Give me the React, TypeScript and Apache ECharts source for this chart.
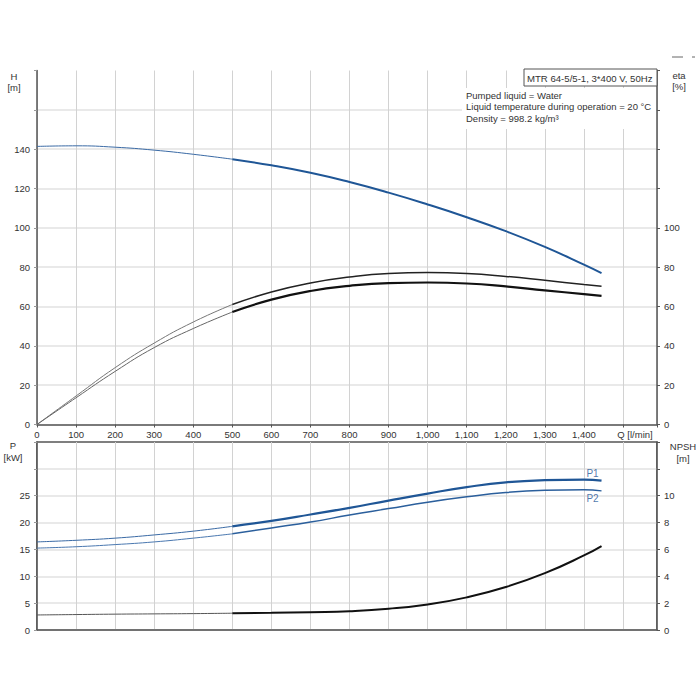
import React, { useEffect, useRef } from "react";
import * as echarts from "echarts";

// Flow rate Q [l/min]
const flowQ = [0, 100, 200, 300, 400, 500, 600, 700, 800, 900, 1000, 1100, 1200, 1300, 1400, 1445];
// Head H [m]
const headH = [141.4, 141.7, 141.0, 139.5, 137.4, 134.9, 131.8, 128.0, 123.3, 117.9, 111.9, 105.4, 98.3, 90.3, 81.3, 77.0];
// Efficiencies [%]
const etaUpper = [0, 14.5, 28.9, 41.4, 52.1, 61.0, 67.4, 72.0, 75.0, 76.8, 77.3, 76.8, 75.3, 73.3, 71.2, 70.3];
const etaLower = [0, 13.6, 27.0, 39.1, 48.8, 57.2, 63.5, 67.9, 70.5, 71.9, 72.2, 71.7, 70.2, 68.2, 66.3, 65.4];
// Power [kW]
const powerP1 = [16.4, 16.7, 17.1, 17.7, 18.4, 19.3, 20.3, 21.5, 22.75, 24.1, 25.4, 26.6, 27.5, 27.9, 28.0, 27.8];
const powerP2 = [15.25, 15.5, 15.9, 16.4, 17.1, 17.9, 19.0, 20.1, 21.4, 22.6, 23.8, 24.8, 25.6, 26.0, 26.1, 25.9];
// NPSH [m]
const npsh = [1.12, 1.15, 1.18, 1.2, 1.22, 1.25, 1.28, 1.33, 1.4, 1.58, 1.9, 2.43, 3.2, 4.23, 5.55, 6.25];

const opStart = 5; // index where operating range (thick curve) begins
const qMax = 1587;

const infoTitle = "MTR 64-5/5-1, 3*400 V, 50Hz";
const infoLines = [
  "Pumped liquid = Water",
  "Liquid temperature during operation = 20 °C",
  "Density = 998.2 kg/m³",
];

const FONT = 'Arial, "Liberation Sans", sans-serif';
const TXT = "#333";

function pts(ys: number[], from: number, to?: number) {
  const end = to === undefined ? flowQ.length : to;
  const out: number[][] = [];
  for (let i = from; i < end; i++) out.push([flowQ[i], ys[i]]);
  return out;
}

function lineSeries(name: string, ys: number[], xi: number, yi: number, thinColor: string, thickColor: string, thickW: number) {
  return [
    {
      name: name + "-thin",
      type: "line",
      xAxisIndex: xi,
      yAxisIndex: yi,
      data: pts(ys, 0, opStart + 1),
      smooth: 0.5,
      symbol: "none",
      lineStyle: { color: thinColor, width: 1 },
      z: 5,
    },
    {
      name: name,
      type: "line",
      xAxisIndex: xi,
      yAxisIndex: yi,
      data: pts(ys, opStart),
      smooth: 0.5,
      symbol: "none",
      lineStyle: { color: thickColor, width: thickW },
      z: 6,
    },
  ];
}

export default function App() {
  const ref = useRef<HTMLDivElement>(null);
  useEffect(() => {
    if (!ref.current) return;
    const chart = echarts.init(ref.current, undefined, { renderer: "svg" });
    const axisLine = { show: true, lineStyle: { color: "#555", width: 1.5 } };
    const lbl = (fmt: (v: number) => string, extra: any = {}) => ({
      color: TXT,
      fontSize: 9.5,
      fontFamily: FONT,
      margin: 7,
      formatter: fmt,
      ...extra,
    });
    const hSplit = { show: true, showMaxLine: false, lineStyle: { color: "#e2e2e2", width: 1.5 } };
    const vSplit = { show: true, lineStyle: { color: "#d2d2d2", width: 1 } };
    const last = flowQ.length - 1;

    const option: any = {
      animation: false,
      backgroundColor: "#fff",
      grid: [
        { left: 37, top: 70.5, width: 620, height: 354, show: false },
        { left: 37, top: 442, width: 620, height: 188, show: true, borderColor: "#555", borderWidth: 1.5, backgroundColor: "transparent" },
      ],
      xAxis: [
        {
          type: "value",
          gridIndex: 0,
          min: 0,
          max: qMax,
          interval: 100,
          axisLine,
          axisTick: { show: true, length: 3, lineStyle: { color: "#555" } },
          axisLabel: lbl((v: number) => (v % 100 === 0 && v <= 1400 ? v.toLocaleString("en-US") : ""), { margin: 5, showMaxLabel: true }),
          splitLine: vSplit,
        },
        {
          type: "value",
          gridIndex: 1,
          min: 0,
          max: qMax,
          interval: 100,
          axisLine,
          axisTick: { show: false },
          axisLabel: { show: false },
          splitLine: vSplit,
        },
      ],
      yAxis: [
        {
          type: "value",
          gridIndex: 0,
          position: "left",
          min: 0,
          max: 180,
          interval: 20,
          axisLine,
          axisTick: { show: true, length: 3, lineStyle: { color: "#999" } },
          axisLabel: lbl((v: number) => (v <= 140 ? String(v) : "")),
          splitLine: hSplit,
        },
        {
          type: "value",
          gridIndex: 0,
          position: "right",
          min: 0,
          max: 180,
          interval: 20,
          axisLine,
          axisTick: { show: true, length: 3, lineStyle: { color: "#555" } },
          axisLabel: lbl((v: number) => (v <= 100 ? String(v) : "")),
          splitLine: { show: false },
        },
        {
          type: "value",
          gridIndex: 1,
          position: "left",
          min: 0,
          max: 35,
          interval: 5,
          axisLine,
          axisTick: { show: true, length: 3, lineStyle: { color: "#999" } },
          axisLabel: lbl((v: number) => (v <= 25 ? String(v) : "")),
          splitLine: hSplit,
        },
        {
          type: "value",
          gridIndex: 1,
          position: "right",
          min: 0,
          max: 14,
          interval: 2,
          axisLine,
          axisTick: { show: true, length: 3, lineStyle: { color: "#555" } },
          axisLabel: lbl((v: number) => (v <= 10 ? String(v) : "")),
          splitLine: { show: false },
        },
      ],
      series: [
        ...lineSeries("H", headH, 0, 0, "#3a6aa5", "#1f5696", 2),
        ...lineSeries("eta1", etaUpper, 0, 1, "#777", "#222", 1.5),
        ...lineSeries("eta2", etaLower, 0, 1, "#666", "#111", 2.2),
        ...lineSeries("P1", powerP1, 1, 2, "#3a6aa5", "#1f5696", 2.2),
        ...lineSeries("P2", powerP2, 1, 2, "#4a78b0", "#2b5f9c", 1.5),
        ...lineSeries("NPSH", npsh, 1, 3, "#555", "#111", 2),
        {
          name: "P1 label",
          type: "scatter",
          xAxisIndex: 1,
          yAxisIndex: 2,
          data: [[flowQ[last], powerP1[last]]],
          symbolSize: 1,
          itemStyle: { color: "transparent" },
          label: { show: true, formatter: "P1", position: "top", distance: 2, offset: [-9, 0], color: "#1f5696", fontSize: 10, fontFamily: FONT },
          z: 10,
        },
        {
          name: "P2 label",
          type: "scatter",
          xAxisIndex: 1,
          yAxisIndex: 2,
          data: [[flowQ[last], powerP2[last]]],
          symbolSize: 1,
          itemStyle: { color: "transparent" },
          label: { show: true, formatter: "P2", position: "bottom", distance: 2, offset: [-9, 0], color: "#1f5696", fontSize: 10, fontFamily: FONT },
          z: 10,
        },
      ],
      graphic: [
        { type: "rect", z: 50, shape: { x: 462, y: 88, width: 194, height: 41 }, style: { fill: "#fff" } },
        { type: "rect", z: 51, shape: { x: 524, y: 69, width: 133, height: 17 }, style: { fill: "#fff", stroke: "#555", lineWidth: 1 } },
        { type: "text", z: 52, x: 527, y: 78, style: { text: infoTitle, fill: TXT, font: `9.6px ${FONT}`, verticalAlign: "middle" } },
        ...infoLines.map((t, i) => ({
          type: "text",
          z: 52,
          x: 466,
          y: 95 + i * 11.5,
          style: { text: t, fill: TXT, font: `9.5px ${FONT}`, verticalAlign: "middle" },
        })),
        { type: "text", z: 52, x: 14, y: 76, style: { text: "H", fill: TXT, font: `9.5px ${FONT}`, align: "center", verticalAlign: "middle" } },
        { type: "text", z: 52, x: 14, y: 87.5, style: { text: "[m]", fill: TXT, font: `9.5px ${FONT}`, align: "center", verticalAlign: "middle" } },
        { type: "text", z: 52, x: 679, y: 75, style: { text: "eta", fill: TXT, font: `9.5px ${FONT}`, align: "center", verticalAlign: "middle" } },
        { type: "text", z: 52, x: 679, y: 86.5, style: { text: "[%]", fill: TXT, font: `9.5px ${FONT}`, align: "center", verticalAlign: "middle" } },
        { type: "text", z: 52, x: 13, y: 445.5, style: { text: "P", fill: TXT, font: `9.5px ${FONT}`, align: "center", verticalAlign: "middle" } },
        { type: "text", z: 52, x: 13, y: 457, style: { text: "[kW]", fill: TXT, font: `9.5px ${FONT}`, align: "center", verticalAlign: "middle" } },
        { type: "text", z: 52, x: 683, y: 446.5, style: { text: "NPSH", fill: TXT, font: `9.5px ${FONT}`, align: "center", verticalAlign: "middle" } },
        { type: "text", z: 52, x: 683, y: 458, style: { text: "[m]", fill: TXT, font: `9.5px ${FONT}`, align: "center", verticalAlign: "middle" } },
        { type: "text", z: 52, x: 635, y: 434, style: { text: "Q [l/min]", fill: TXT, font: `9.5px ${FONT}`, align: "center", verticalAlign: "middle" } },
        { type: "line", z: 52, shape: { x1: 672, y1: 57, x2: 683, y2: 57 }, style: { stroke: "#666", lineWidth: 1 } },
        { type: "line", z: 52, shape: { x1: 692, y1: 57, x2: 695, y2: 57 }, style: { stroke: "#666", lineWidth: 1 } },
      ],
    };
    chart.setOption(option);
    return () => chart.dispose();
  }, []);
  return <div ref={ref} style={{ position: "absolute", left: 0, top: 0, width: 700, height: 700 }} />;
}
